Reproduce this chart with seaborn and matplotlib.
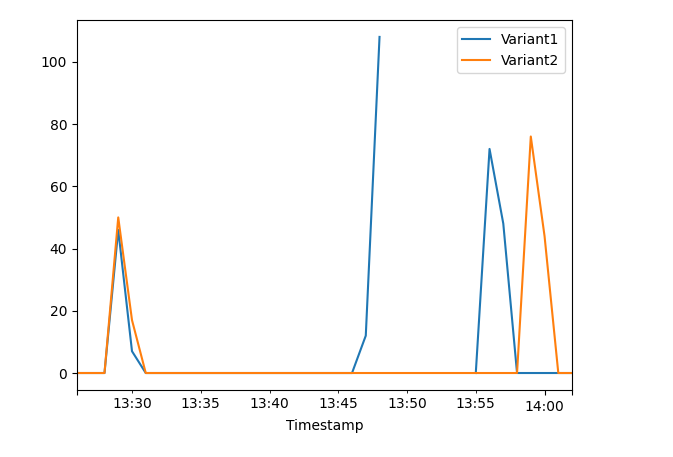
import numpy as np
import pandas as pd
import matplotlib
matplotlib.use("Agg")
import matplotlib.pyplot as plt
import matplotlib.dates as mdates
from matplotlib.ticker import FuncFormatter
import seaborn as sns

# --------------------------
# Data (one reading per minute, 13:26 - 14:02)
# --------------------------
timestamps = pd.date_range("2023-01-01 13:26", "2023-01-01 14:02", freq="min")

variant1 = [0, 0, 0, 46, 7, 0,
            0, 0, 0, 0, 0, 0, 0, 0, 0, 0, 0, 0, 0, 0, 0,
            12, 108,
            np.nan, np.nan, np.nan, np.nan, np.nan, np.nan,
            0, 72, 48, 0, 0,
            0, 0, 0]
variant2 = [0, 0, 0, 50, 17, 0,
            0, 0, 0, 0, 0, 0, 0, 0, 0, 0, 0, 0, 0, 0, 0,
            0, 0, 0, 0, 0, 0, 0, 0, 0, 0, 0, 0,
            76, 44, 0, 0]

df = pd.DataFrame({"Variant1": variant1, "Variant2": variant2}, index=timestamps)
df.index.name = "Timestamp"

# long form; split each series at gaps so missing points break the line
long = df.reset_index().melt(id_vars="Timestamp", var_name="variant", value_name="value")
long["segment"] = long.groupby("variant")["value"].transform(lambda s: s.isna().cumsum())
long = long.dropna(subset=["value"])

# --------------------------
# Plot
# --------------------------
fig, ax = plt.subplots(figsize=(6.73, 4.57), dpi=100)
fig.subplots_adjust(left=0.1144, right=0.850, bottom=0.147, top=0.956)

sns.lineplot(data=long, x="Timestamp", y="value", hue="variant",
             units="segment", estimator=None, ax=ax, linewidth=1.5)

ax.set_xlim(timestamps.min(), timestamps.max())
ax.set_xlabel("Timestamp")
ax.set_ylabel("")

# pandas-like time axis: labelled 5-min minor ticks, major ticks at edges / full hour
edges = mdates.date2num([timestamps.min(), pd.Timestamp("2023-01-01 14:00"), timestamps.max()])
ax.xaxis.set_major_locator(matplotlib.ticker.FixedLocator(edges))
ax.xaxis.set_major_formatter(FuncFormatter(
    lambda x, pos: mdates.num2date(x).strftime("%H:%M") if mdates.num2date(x).minute == 0 else ""))
ax.xaxis.set_minor_locator(mdates.MinuteLocator(byminute=range(5, 60, 5)))
ax.xaxis.set_minor_formatter(mdates.DateFormatter("%H:%M"))

sns.move_legend(ax, "upper right", title=None)

plt.savefig("out.png", dpi=100)
